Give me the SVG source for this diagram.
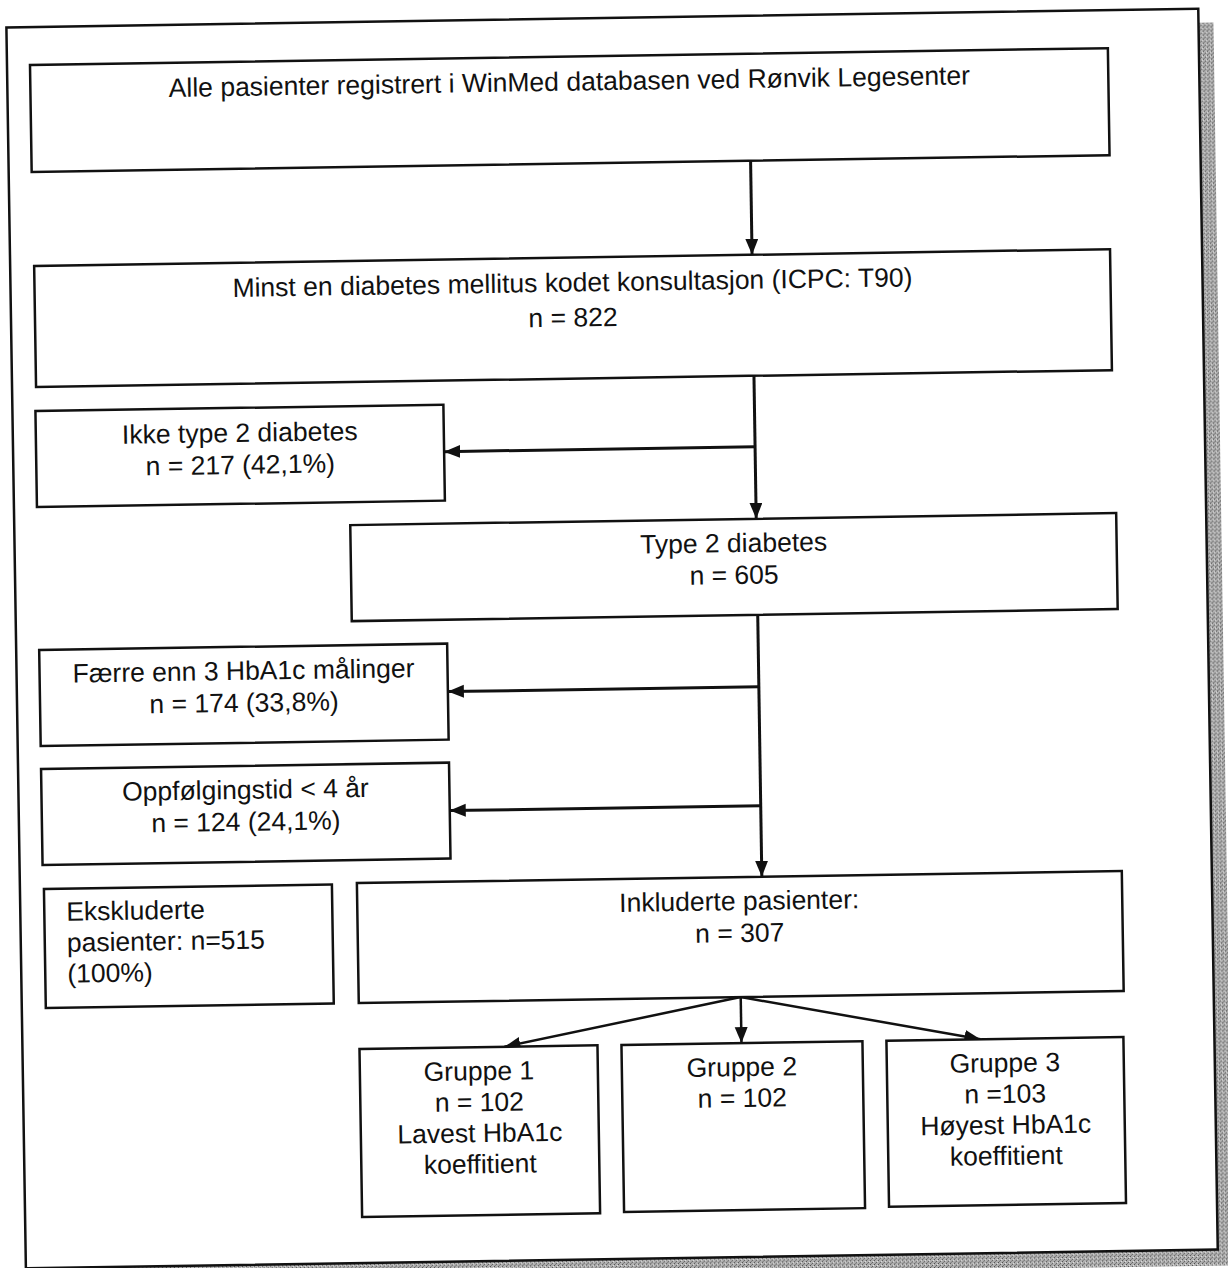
<svg xmlns="http://www.w3.org/2000/svg" width="1228" height="1268" viewBox="0 0 1228 1268">
<style>
.box{fill:#fff;stroke:#111;stroke-width:2.5}
.frame{fill:#fff;stroke:#111;stroke-width:2.5}
.conn{fill:none;stroke:#111;stroke-width:3}
.t{font-family:"Liberation Sans",Arial,Helvetica,sans-serif;font-size:26.5px;fill:#111}
.c{text-anchor:middle}
</style>
<defs>
<marker id="ah" markerUnits="userSpaceOnUse" markerWidth="18" markerHeight="14" refX="16" refY="6.5" orient="auto">
<path d="M0,0 L16,6.5 L0,13 z" fill="#111"/>
</marker>
<pattern id="stip" width="4" height="4" patternUnits="userSpaceOnUse">
<rect width="4" height="4" fill="#b0b0b0"/>
<rect x="0" y="0" width="1" height="1" fill="#444"/>
<rect x="2" y="2" width="1" height="1" fill="#555"/>
<rect x="3" y="1" width="1" height="1" fill="#e8e8e8"/>
<rect x="1" y="3" width="1" height="1" fill="#777"/>
</pattern>
</defs>
<rect width="1228" height="1268" fill="#fff"/>
<g id="diagram" transform="rotate(-0.9 614 634)">
<rect x="30" y="32" width="1193" height="1243" fill="url(#stip)"/>
<rect class="frame" x="16" y="18" width="1192" height="1241"/>
<g id="connectors">
<path class="conn" d="M758,163 L758,257" marker-end="url(#ah)"/>
<path class="conn" d="M758,378 L758,521" marker-end="url(#ah)"/>
<path class="conn" d="M758,449 L447,449" marker-end="url(#ah)"/>
<path class="conn" d="M758,617 L758,879" marker-end="url(#ah)"/>
<path class="conn" d="M758,689 L447,689" marker-end="url(#ah)"/>
<path class="conn" d="M758,808 L447,808" marker-end="url(#ah)"/>
<path class="conn" style="stroke-width:2.5" d="M735,999 L498,1045" marker-end="url(#ah)"/>
<path class="conn" style="stroke-width:2.5" d="M735,999 L735,1045" marker-end="url(#ah)"/>
<path class="conn" style="stroke-width:2.5" d="M735,999 L974,1045" marker-end="url(#ah)"/>
</g>
<g id="n_alle">
<rect class="box" x="39" y="56" width="1078" height="107"/>
<text class="t c" x="578" y="90">Alle pasienter registrert i WinMed databasen ved Rønvik Legesenter</text>
</g>
<g id="n_minst">
<rect class="box" x="40" y="257" width="1076" height="121"/>
<text class="t c" x="578" y="291">Minst en diabetes mellitus kodet konsultasjon (ICPC: T90)</text>
<text class="t c" x="578" y="326">n = 822</text>
</g>
<g id="n_ikke">
<rect class="box" x="39" y="402" width="408" height="96"/>
<text class="t c" x="243" y="436">Ikke type 2 diabetes</text>
<text class="t c" x="243" y="468">n = 217 (42,1%)</text>
</g>
<g id="n_type2">
<rect class="box" x="352" y="521" width="766" height="96"/>
<text class="t c" x="735" y="554">Type 2 diabetes</text>
<text class="t c" x="735" y="586">n = 605</text>
</g>
<g id="n_faerre">
<rect class="box" x="39" y="641" width="408" height="96"/>
<text class="t c" x="243" y="674">Færre enn 3 HbA1c målinger</text>
<text class="t c" x="243" y="706">n = 174 (33,8%)</text>
</g>
<g id="n_oppf">
<rect class="box" x="39" y="760" width="408" height="96"/>
<text class="t c" x="243" y="793">Oppfølgingstid &lt; 4 år</text>
<text class="t c" x="243" y="825">n = 124 (24,1%)</text>
</g>
<g id="n_ekskl">
<rect class="box" x="40" y="880" width="288" height="119"/>
<text class="t" x="62" y="912">Ekskluderte</text>
<text class="t" x="62" y="943">pasienter: n=515</text>
<text class="t" x="62" y="974">(100%)</text>
</g>
<g id="n_inkl">
<rect class="box" x="353" y="879" width="765" height="120"/>
<text class="t c" x="735" y="912">Inkluderte pasienter:</text>
<text class="t c" x="735" y="944">n = 307</text>
</g>
<g id="n_g1">
<rect class="box" x="353" y="1045" width="238" height="168"/>
<text class="t c" x="472" y="1078">Gruppe 1</text>
<text class="t c" x="472" y="1109">n = 102</text>
<text class="t c" x="472" y="1140">Lavest HbA1c</text>
<text class="t c" x="472" y="1171">koeffitient</text>
</g>
<g id="n_g2">
<rect class="box" x="615" y="1045" width="241" height="167"/>
<text class="t c" x="735" y="1078">Gruppe 2</text>
<text class="t c" x="735" y="1109">n = 102</text>
</g>
<g id="n_g3">
<rect class="box" x="880" y="1045" width="237" height="166"/>
<text class="t c" x="998" y="1078">Gruppe 3</text>
<text class="t c" x="998" y="1109">n =103</text>
<text class="t c" x="998" y="1140">Høyest HbA1c</text>
<text class="t c" x="998" y="1171">koeffitient</text>
</g>
</g>
</svg>
